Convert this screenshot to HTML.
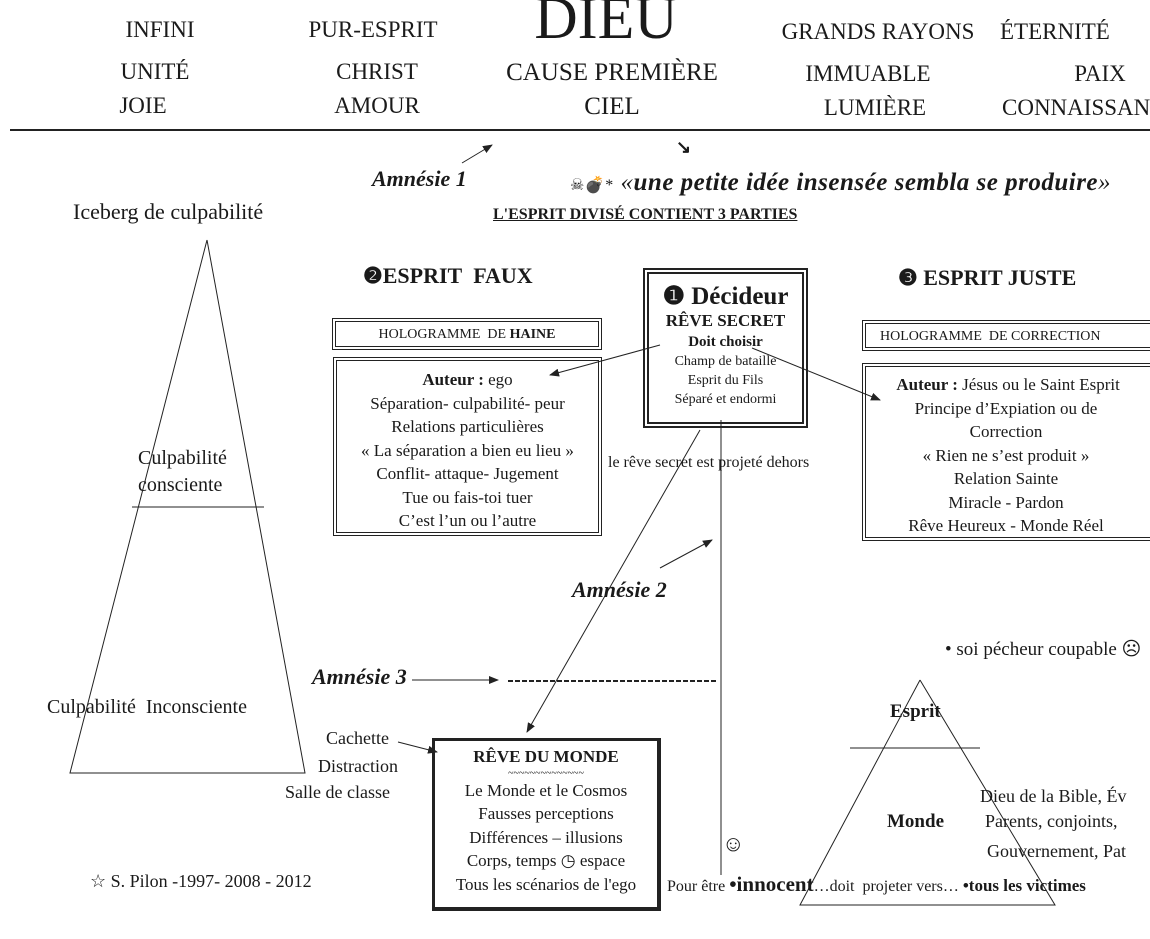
<!DOCTYPE html>
<html><head><meta charset="utf-8"><style>
body{margin:0;width:1150px;height:939px;background:#fff;position:relative;overflow:hidden;font-family:"Liberation Serif",serif;color:#1a1a1a}
.t{position:absolute;white-space:nowrap;line-height:1}
.h{font-size:23px;transform:translateX(-50%)}
.c{text-align:center;position:absolute;box-sizing:border-box}
.dbl{border:4px double #222}
svg{position:absolute;left:0;top:0}
</style></head><body>
<svg width="1150" height="939">
<defs><marker id="a" markerWidth="10" markerHeight="8" refX="9" refY="4" orient="auto"><path d="M0,0 L10,4 L0,8 z" fill="#222"/></marker></defs>
<line x1="10" y1="130" x2="1150" y2="130" stroke="#222" stroke-width="2"/>
<line x1="462" y1="163" x2="492" y2="145" stroke="#222" marker-end="url(#a)"/>
<polyline points="207,240 70,773 305,773 207,240" fill="none" stroke="#222"/>
<line x1="132" y1="507" x2="264" y2="507" stroke="#222"/>
<polyline points="920,680 800,905 1055,905 920,680" fill="none" stroke="#222"/>
<line x1="850" y1="748" x2="980" y2="748" stroke="#222"/>
<line x1="660" y1="345" x2="550" y2="375" stroke="#222" marker-end="url(#a)"/>
<line x1="752" y1="348" x2="880" y2="400" stroke="#222" marker-end="url(#a)"/>
<line x1="700" y1="430" x2="527" y2="732" stroke="#222" marker-end="url(#a)"/>
<line x1="721" y1="420" x2="721" y2="875" stroke="#222"/>
<line x1="660" y1="568" x2="712" y2="540" stroke="#222" marker-end="url(#a)"/>
<line x1="412" y1="680" x2="498" y2="680" stroke="#222" marker-end="url(#a)"/>
<line x1="508" y1="681" x2="716" y2="681" stroke="#222" stroke-width="2" stroke-dasharray="5,2"/>
<line x1="398" y1="742" x2="437" y2="752" stroke="#222" marker-end="url(#a)"/>
</svg>
<div class="t h" style="left:160px;top:18px">INFINI</div>
<div class="t h" style="left:373px;top:18px">PUR-ESPRIT</div>
<div class="t h" style="left:606px;top:-12px;font-size:60px">DIEU</div>
<div class="t h" style="left:878px;top:20px">GRANDS RAYONS</div>
<div class="t" style="left:1000px;top:20px;font-size:23px">ÉTERNITÉ</div>
<div class="t h" style="left:155px;top:60px">UNITÉ</div>
<div class="t h" style="left:377px;top:60px">CHRIST</div>
<div class="t h" style="left:612px;top:60px;font-size:25px">CAUSE PREMIÈRE</div>
<div class="t h" style="left:868px;top:62px">IMMUABLE</div>
<div class="t h" style="left:1100px;top:62px">PAIX</div>
<div class="t h" style="left:143px;top:94px">JOIE</div>
<div class="t h" style="left:377px;top:94px">AMOUR</div>
<div class="t h" style="left:612px;top:94px;font-size:25px">CIEL</div>
<div class="t h" style="left:875px;top:96px">LUMIÈRE</div>
<div class="t" style="left:1002px;top:96px;font-size:23px">CONNAISSANCE</div>
<div class="t" style="left:372px;top:168px;font-size:22px;font-weight:bold;font-style:italic">Amnésie 1</div>
<div class="t" style="left:676px;top:138px;font-size:18px;font-weight:bold">↘</div>
<div class="t" style="left:570px;top:170px;font-size:25px;font-style:italic;letter-spacing:0.5px"><span style="font-size:16px;font-style:normal">☠💣*</span> «<b>une petite idée insensée sembla se produire</b>»</div>
<div class="t" style="left:493px;top:207px;font-size:16px;font-weight:bold;text-decoration:underline">L'ESPRIT DIVISÉ CONTIENT 3 PARTIES</div>
<div class="t" style="left:73px;top:201px;font-size:22px">Iceberg de culpabilité</div>
<div class="t" style="left:138px;top:448px;font-size:20px">Culpabilité<br><span style="line-height:34px">consciente</span></div>
<div class="t" style="left:47px;top:697px;font-size:20px">Culpabilité&nbsp; Inconsciente</div>
<div class="t" style="left:363px;top:265px;font-size:22px;font-weight:bold">❷ESPRIT&nbsp; FAUX</div>
<div class="t" style="left:898px;top:267px;font-size:22px;font-weight:bold">❸ ESPRIT JUSTE</div>
<div class="c" style="left:643px;top:268px;width:165px;height:160px;border:6px double #222;padding-top:10px;font-size:14px">
<div style="font-size:25px;font-weight:bold;line-height:26px">❶ Décideur</div>
<div style="font-size:17px;font-weight:bold;line-height:22px">RÊVE SECRET</div>
<div style="font-size:15px;font-weight:bold;line-height:20px">Doit choisir</div>
<div style="line-height:19px">Champ de bataille<br>Esprit du Fils<br>Séparé et endormi</div></div>
<div class="c dbl" style="left:332px;top:318px;width:270px;height:32px;font-size:14px;padding-top:5px">HOLOGRAMME&nbsp; DE <b>HAINE</b></div>
<div class="c dbl" style="left:333px;top:357px;width:269px;height:179px;font-size:17px;line-height:23.5px;padding-top:7px"><b>Auteur :</b> ego<br>Séparation- culpabilité- peur<br>Relations particulières<br>« La séparation a bien eu lieu »<br>Conflit- attaque- Jugement<br>Tue ou fais-toi tuer<br>C’est l’un ou l’autre</div>
<div class="c dbl" style="left:862px;top:320px;width:300px;height:31px;font-size:14px;padding:5px 12px 0 14px;text-align:left">HOLOGRAMME&nbsp; DE CORRECTION</div>
<div class="c dbl" style="left:862px;top:363px;width:300px;height:178px;font-size:17px;line-height:23.5px;padding:6px 12px 0 0">&nbsp;<b>Auteur :</b> Jésus ou le Saint Esprit<br>Principe d’Expiation ou de<br>Correction<br>« Rien ne s’est produit »<br>Relation Sainte<br>Miracle - Pardon<br>Rêve Heureux - Monde Réel</div>
<div class="t" style="left:608px;top:455px;font-size:16px">le rêve secret est projeté dehors</div>
<div class="t" style="left:572px;top:579px;font-size:22px;font-weight:bold;font-style:italic">Amnésie 2</div>
<div class="t" style="left:312px;top:666px;font-size:22px;font-weight:bold;font-style:italic">Amnésie 3</div>
<div class="t" style="left:945px;top:640px;font-size:19px">• soi pécheur coupable ☹</div>
<div class="t" style="left:326px;top:729px;font-size:18px">Cachette</div>
<div class="t" style="left:318px;top:757px;font-size:18px">Distraction</div>
<div class="t" style="left:285px;top:783px;font-size:18px">Salle de classe</div>
<div class="c" style="left:432px;top:738px;width:229px;height:173px;border:3px solid #222;border-right-width:4px;border-bottom-width:4px;font-size:17px;line-height:23.5px;padding-top:4px"><b>RÊVE DU MONDE</b><br><span style="font-size:10px;line-height:10px;display:block">~~~~~~~~~~~~~~</span>Le Monde et le Cosmos<br>Fausses perceptions<br>Différences – illusions<br>Corps, temps ◷ espace<br>Tous les scénarios de l'ego</div>
<div class="t" style="left:890px;top:702px;font-size:19px;font-weight:bold">Esprit</div>
<div class="t" style="left:887px;top:812px;font-size:19px;font-weight:bold">Monde</div>
<div class="t" style="left:980px;top:787px;font-size:18px">Dieu de la Bible, Év</div>
<div class="t" style="left:985px;top:812px;font-size:18px">Parents, conjoints, </div>
<div class="t" style="left:987px;top:842px;font-size:18px">Gouvernement, Pat</div>
<div class="t" style="left:722px;top:833px;font-size:22px">☺</div>
<div class="t" style="left:667px;top:874px;font-size:16px">Pour être <b style="font-size:21px">•innocent</b>…doit&nbsp; projeter vers… <b style="font-size:17px">•tous les victimes</b></div>
<div class="t" style="left:90px;top:872px;font-size:18px">☆ S. Pilon -1997- 2008 - 2012</div>
</body></html>
